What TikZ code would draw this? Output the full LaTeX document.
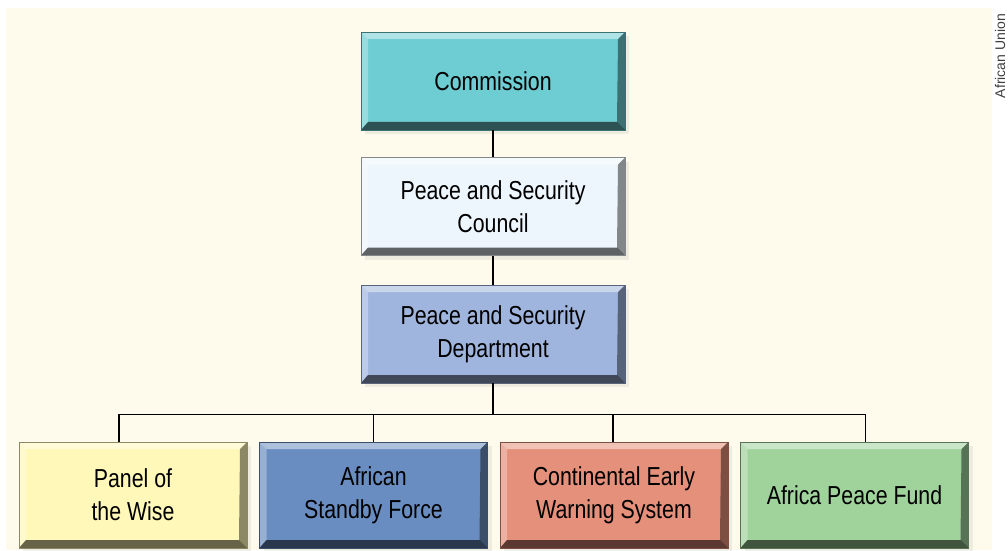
\documentclass[tikz,border=0pt]{standalone}
\usepackage{xcolor}
\usepackage{fontspec}
\setmainfont[FakeStretch=0.82]{Liberation Sans}
\newfontfamily\creditfont{Liberation Sans}
\usepackage{tikz}
\usetikzlibrary{positioning, shadows}

\definecolor{paper}{HTML}{FEFBEC}
\definecolor{commcol}{HTML}{6ECDD3}
\definecolor{psccol}{HTML}{EEF6FD}
\definecolor{psdcol}{HTML}{A0B5DD}
\definecolor{wisecol}{HTML}{FFF8B8}
\definecolor{asfcol}{HTML}{6A8DC1}
\definecolor{cewscol}{HTML}{E4907A}
\definecolor{fundcol}{HTML}{A0D29C}

\tikzset{
  bevelbox/.style={rectangle, fill=#1, draw=#1!55!black, line width=0.5pt,
    inner sep=0pt, align=center, font=\fontsize{26}{33}\selectfont,
    drop shadow={opacity=.12, shadow xshift=4pt, shadow yshift=-4pt},
    path picture={
      \coordinate (nw) at (path picture bounding box.north west);
      \coordinate (ne) at (path picture bounding box.north east);
      \coordinate (sw) at (path picture bounding box.south west);
      \coordinate (se) at (path picture bounding box.south east);
      \fill[white, opacity=.45] (nw) -- (ne) -- ([shift={(-7pt,-7pt)}]ne) -- ([shift={(7pt,-7pt)}]nw) -- cycle;
      \fill[white, opacity=.3] (nw) -- (sw) -- ([shift={(7pt,8pt)}]sw) -- ([shift={(7pt,-7pt)}]nw) -- cycle;
      \fill[black, opacity=.45] (ne) -- (se) -- ([shift={(-8pt,8pt)}]se) -- ([shift={(-7pt,-7pt)}]ne) -- cycle;
      \fill[black, opacity=.6] (sw) -- (se) -- ([shift={(-8pt,8pt)}]se) -- ([shift={(7pt,8pt)}]sw) -- cycle;
    }},
  topbox/.style={bevelbox=#1, minimum width=264pt, minimum height=98pt},
  unitbox/.style={bevelbox=#1, minimum width=228pt, minimum height=106pt},
  link/.style={line width=1.2pt, draw=black}
}

\begin{document}
\begin{tikzpicture}[x=1pt, y=1pt]
    \useasboundingbox (0,0) rectangle (1008,550);
    \fill[white] (0,0) rectangle (1008,550);
    \fill[paper] (6,0) rectangle (992,542);

    % upper chain
    \node [topbox=commcol] (comm) at (493,469) {Commission};
    \node [topbox=psccol, below=27pt of comm] (psc) {Peace and Security\\Council};
    \node [topbox=psdcol, below=29pt of psc] (psd) {Peace and Security\\Department};

    % bottom row
    \node [unitbox=wisecol] (wise) at (133,55) {Panel of\\the Wise};
    \node [unitbox=asfcol, right=12pt of wise] (asf) {African\\Standby Force};
    \node [unitbox=cewscol, right=12pt of asf] (cews) {Continental Early\\Warning System};
    \node [unitbox=fundcol, right=12pt of cews] (fund) {Africa Peace Fund};

    \draw [link] (comm) -- (psc);
    \draw [link] (psc) -- (psd);
    \draw [link] (psd.south) -- ++(0,-31) coordinate (bar);
    \draw [link] ([xshift=-14pt]wise.north) |- (bar) -| ([xshift=11pt]fund.north);
    \draw [link] (asf.north) -- (asf.north |- bar);
    \draw [link] ([xshift=-1pt]cews.north) -- ([xshift=-1pt]cews.north |- bar);

    \node [rotate=90, font=\creditfont\fontsize{14}{14}\selectfont, text=black!75] (credit) at (1000,494) {African Union};
\end{tikzpicture}
\end{document}
